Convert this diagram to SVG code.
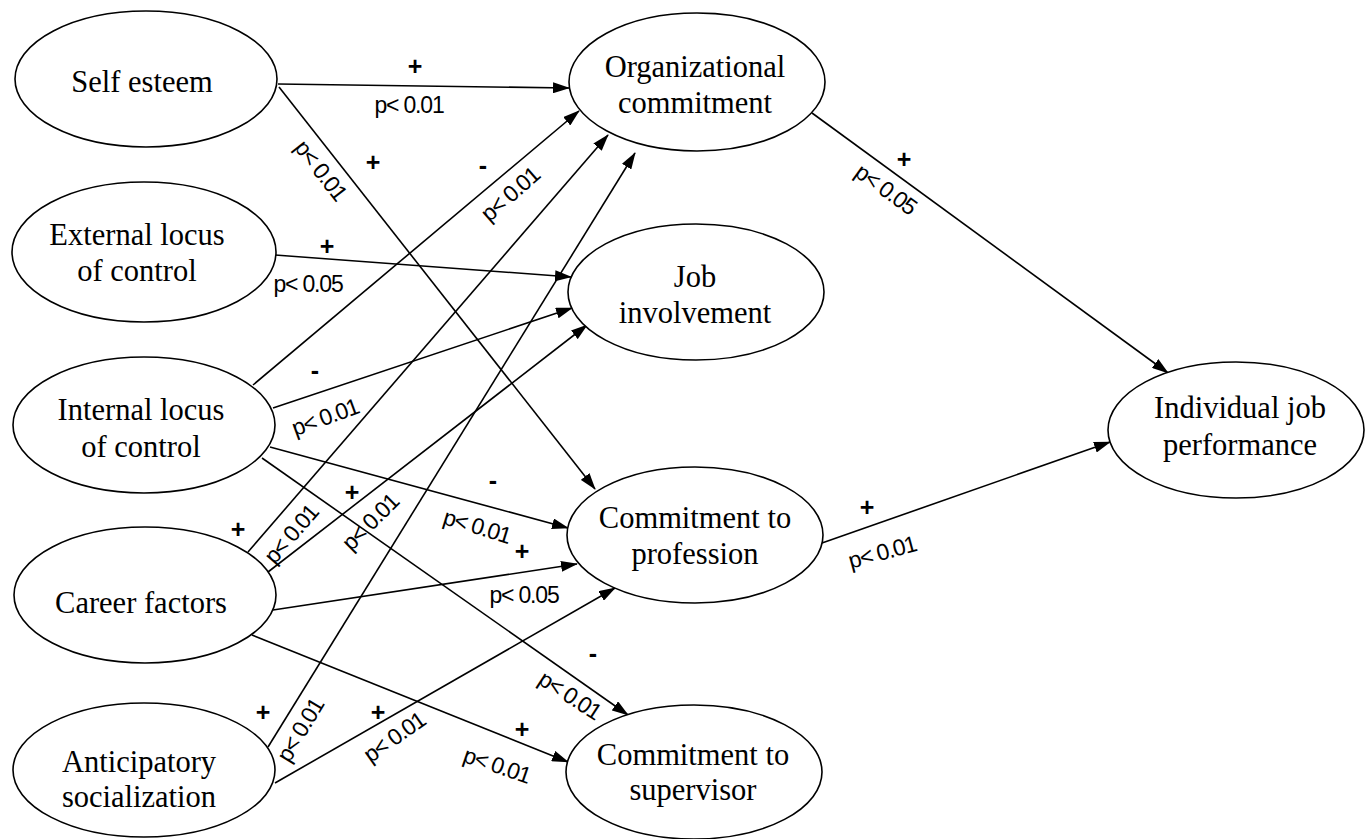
<svg xmlns="http://www.w3.org/2000/svg" width="1368" height="839" viewBox="0 0 1368 839">
<defs>
<style>
.node ellipse{fill:#fff;stroke:#000;stroke-width:1.6}
.node text{font-family:"Liberation Serif","Times New Roman",serif;font-size:30.5px;fill:#000;text-anchor:middle}
.edge{stroke:#000;stroke-width:1.6;fill:none;marker-end:url(#ah)}
.lbl{font-family:"Liberation Sans",Arial,sans-serif;font-size:23px;letter-spacing:-1.2px;fill:#000;text-anchor:middle}
.sgn{font-family:"Liberation Sans",Arial,sans-serif;font-size:25px;font-weight:bold;fill:#000;text-anchor:middle}
</style>
<marker id="ah" markerWidth="17" markerHeight="11" refX="16" refY="5.5" orient="auto" markerUnits="userSpaceOnUse">
<path d="M0,0 L17,5.5 L0,11 z" fill="#000"/>
</marker>
</defs>
<rect width="1368" height="839" fill="#fff"/>

<g id="connectors">
<line class="edge" x1="278" y1="84" x2="569" y2="88"/>
<line class="edge" x1="279" y1="87" x2="595" y2="489"/>
<line class="edge" x1="275" y1="255" x2="571" y2="277"/>
<line class="edge" x1="253" y1="385" x2="579" y2="111"/>
<line class="edge" x1="273" y1="408" x2="572" y2="308"/>
<line class="edge" x1="270" y1="447" x2="568" y2="528"/>
<line class="edge" x1="262" y1="458" x2="628" y2="715"/>
<line class="edge" x1="248" y1="552" x2="608" y2="135"/>
<line class="edge" x1="268" y1="572" x2="587" y2="325"/>
<line class="edge" x1="273" y1="610" x2="577" y2="564"/>
<line class="edge" x1="252" y1="635" x2="568" y2="762"/>
<line class="edge" x1="268" y1="747" x2="635" y2="153"/>
<line class="edge" x1="275" y1="783" x2="615" y2="588"/>
<line class="edge" x1="812" y1="113" x2="1168" y2="373"/>
<line class="edge" x1="822" y1="543" x2="1110" y2="442"/>

<g id="signs">
<text class="sgn" x="415" y="75">+</text>
<text class="sgn" x="373" y="171">+</text>
<text class="sgn" x="327" y="255">+</text>
<text class="sgn" x="238" y="538">+</text>
<text class="sgn" x="352" y="501">+</text>
<text class="sgn" x="522" y="560">+</text>
<text class="sgn" x="522" y="738">+</text>
<text class="sgn" x="263" y="721">+</text>
<text class="sgn" x="378" y="721">+</text>
<text class="sgn" x="904" y="168">+</text>
<text class="sgn" x="867" y="516">+</text>
<text class="sgn" x="483" y="174">-</text>
<text class="sgn" x="315" y="379">-</text>
<text class="sgn" x="493" y="489">-</text>
<text class="sgn" x="593" y="662">-</text>
</g>

<g id="pvalues">
<text class="lbl" x="409" y="113">p&lt; 0.01</text>
<text class="lbl" x="308" y="292">p&lt; 0.05</text>
<text class="lbl" x="524" y="603">p&lt; 0.05</text>
<text class="lbl" transform="translate(321,170) rotate(52)" dy="0.35em">p&lt; 0.01</text>
<text class="lbl" transform="translate(510,194) rotate(-41)" dy="0.35em">p&lt; 0.01</text>
<text class="lbl" transform="translate(325,417) rotate(-20)" dy="0.35em">p&lt; 0.01</text>
<text class="lbl" transform="translate(291,534) rotate(-49)" dy="0.35em">p&lt; 0.01</text>
<text class="lbl" transform="translate(370,522) rotate(-45)" dy="0.35em">p&lt; 0.01</text>
<text class="lbl" transform="translate(477,526) rotate(17)" dy="0.35em">p&lt; 0.01</text>
<text class="lbl" transform="translate(570,695) rotate(33)" dy="0.35em">p&lt; 0.01</text>
<text class="lbl" transform="translate(497,765) rotate(19)" dy="0.35em">p&lt; 0.01</text>
<text class="lbl" transform="translate(300,730) rotate(-59)" dy="0.35em">p&lt; 0.01</text>
<text class="lbl" transform="translate(394,737) rotate(-35)" dy="0.35em">p&lt; 0.01</text>
<text class="lbl" transform="translate(886,189) rotate(36)" dy="0.35em">p&lt; 0.05</text>
<text class="lbl" transform="translate(882,552) rotate(-15)" dy="0.35em">p&lt; 0.01</text>
</g>
</g>

<g id="self-esteem" class="node">
<ellipse cx="146" cy="79" rx="131" ry="68"/>
<text x="142" y="92">Self esteem</text>
</g>
<g id="external-locus" class="node">
<ellipse cx="144" cy="252" rx="132" ry="70"/>
<text x="137" y="245">External locus</text>
<text x="137" y="281">of control</text>
</g>
<g id="internal-locus" class="node">
<ellipse cx="144" cy="425" rx="131" ry="68"/>
<text x="141" y="420">Internal locus</text>
<text x="141" y="457">of control</text>
</g>
<g id="career-factors" class="node">
<ellipse cx="145" cy="595" rx="131" ry="68"/>
<text x="141" y="613">Career factors</text>
</g>
<g id="anticipatory-socialization" class="node">
<ellipse cx="144" cy="770" rx="131" ry="67"/>
<text x="139" y="772">Anticipatory</text>
<text x="139" y="807">socialization</text>
</g>
<g id="organizational-commitment" class="node">
<ellipse cx="697" cy="82" rx="128" ry="69"/>
<text x="695" y="77">Organizational</text>
<text x="695" y="113">commitment</text>
</g>
<g id="job-involvement" class="node">
<ellipse cx="696" cy="292" rx="128" ry="68"/>
<text x="695" y="287">Job</text>
<text x="695" y="323">involvement</text>
</g>
<g id="commitment-profession" class="node">
<ellipse cx="695" cy="535" rx="128" ry="68"/>
<text x="695" y="528">Commitment to</text>
<text x="695" y="564">profession</text>
</g>
<g id="commitment-supervisor" class="node">
<ellipse cx="694" cy="772" rx="128" ry="67"/>
<text x="693" y="765">Commitment to</text>
<text x="693" y="800">supervisor</text>
</g>
<g id="individual-performance" class="node">
<ellipse cx="1236" cy="430" rx="128" ry="68"/>
<text x="1240" y="418">Individual job</text>
<text x="1240" y="455">performance</text>
</g>
</svg>
